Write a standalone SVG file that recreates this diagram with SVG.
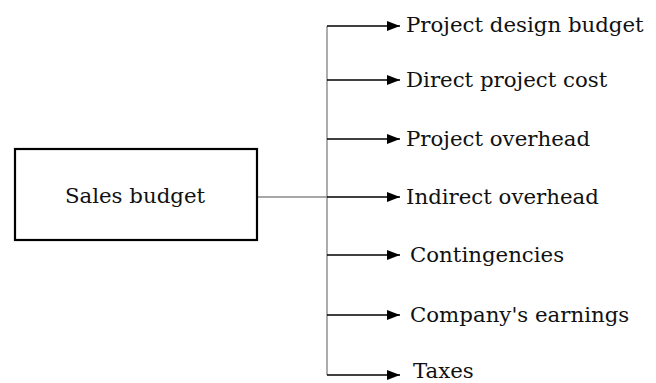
<svg xmlns="http://www.w3.org/2000/svg" width="656" height="383" viewBox="0 0 656 383">
  <style>
    .lbl { font-family: "DejaVu Serif", "Liberation Serif", serif; font-size: 21.3px; fill: #111; }
    .box { fill: #fff; stroke: #000; stroke-width: 2.2; }
    .trunk { stroke: #8a8a8a; stroke-width: 1.4; fill: none; }
    .branch { stroke: #000; stroke-width: 1.6; fill: none; marker-end: url(#tip); }
  </style>
  <defs>
    <marker id="tip" viewBox="0 0 13 10" refX="13" refY="5" markerWidth="13" markerHeight="10" markerUnits="userSpaceOnUse" orient="auto">
      <path d="M0,0 L13,5 L0,10 Z" fill="#000"/>
    </marker>
  </defs>
  <rect width="656" height="383" fill="#fff"/>

  <g id="connectors">
    <line class="trunk" x1="257" y1="197" x2="327" y2="197"/>
    <line class="trunk" x1="327" y1="26" x2="327" y2="375"/>
    <line class="branch" x1="327" y1="26" x2="400" y2="26"/>
    <line class="branch" x1="327" y1="80" x2="400" y2="80"/>
    <line class="branch" x1="327" y1="139" x2="400" y2="139"/>
    <line class="branch" x1="327" y1="197" x2="400" y2="197"/>
    <line class="branch" x1="327" y1="255" x2="400" y2="255"/>
    <line class="branch" x1="327" y1="315" x2="400" y2="315"/>
    <line class="branch" x1="327" y1="375" x2="400" y2="375"/>
  </g>

  <g id="sales-budget">
    <rect class="box" x="15" y="149" width="242" height="91"/>
    <text class="lbl" x="135" y="203" text-anchor="middle">Sales budget</text>
  </g>
  <g id="project-design-budget"><text class="lbl" x="406" y="32">Project design budget</text></g>
  <g id="direct-project-cost"><text class="lbl" x="406" y="87">Direct project cost</text></g>
  <g id="project-overhead"><text class="lbl" x="406" y="146">Project overhead</text></g>
  <g id="indirect-overhead"><text class="lbl" x="406" y="204">Indirect overhead</text></g>
  <g id="contingencies"><text class="lbl" x="410" y="262">Contingencies</text></g>
  <g id="companys-earnings"><text class="lbl" x="410" y="322">Company's earnings</text></g>
  <g id="taxes"><text class="lbl" x="413" y="378">Taxes</text></g>
</svg>
